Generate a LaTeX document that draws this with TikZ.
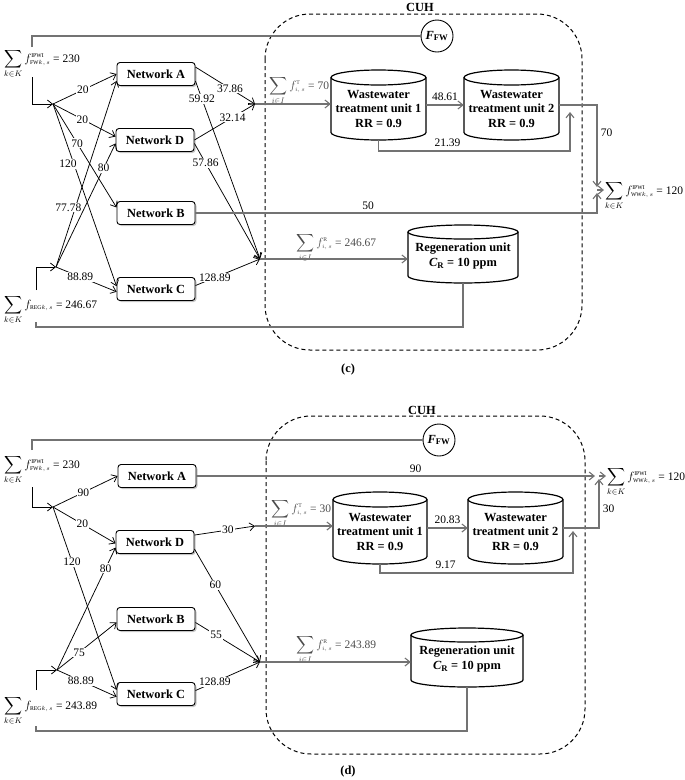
\documentclass[tikz,border=0pt]{standalone}
\usepackage{fontspec}
\usepackage{graphicx}
\setmainfont{Liberation Serif}
\usetikzlibrary{arrows.meta,shadows,calc}
\newcommand\drawcyl[5]{%
  \draw[cylline] (#1-#4,#2+#5) -- (#1-#4,#3-#5) arc[start angle=180,end angle=360,x radius=#4pt,y radius=#5pt] -- (#1+#4,#2+#5);
  \draw[cylline] (#1,#2+#5) ellipse[x radius=#4pt,y radius=#5pt];
}
\newcommand\bsum{\mathop{\vcenter{\hbox{\scalebox{1.25}{$\displaystyle\sum$}}}}\limits}
\begin{document}
\begin{tikzpicture}[x=1pt,y=-1pt,font=\fontsize{11.5}{13}\selectfont,
 net/.style={draw,rounded corners=3pt,line width=0.9pt,fill=white,minimum width=78pt,minimum height=23pt,inner sep=0pt,font=\fontsize{12.4}{14}\selectfont\bfseries,drop shadow={shadow xshift=1.5pt,shadow yshift=-1.5pt,fill=black!45}},
 ar/.style={-{Straight Barb[length=5pt,width=8pt]}},
 bl/.style={line width=0.75pt,draw=black},
 gl/.style={line width=1.1pt,draw=black!55},
 lbl/.style={fill=white,inner sep=1pt},
 cylbox/.style 2 args={minimum width=#1,minimum height=#2,inner sep=0pt},
 cyltxt/.style={align=center,font=\fontsize{12.4}{14.5}\selectfont\bfseries,inner sep=0pt},
 cylline/.style={line width=1.2pt},
 cuh/.style={dash pattern=on 4pt off 3pt,line width=1pt,rounded corners=45pt},
 boldlbl/.style={font=\fontsize{12.4}{14}\selectfont\bfseries},
 fwnode/.style={draw,circle,minimum size=32pt,inner sep=0pt,line width=0.9pt,font=\fontsize{12.4}{14}\selectfont\bfseries},
 sumlbl/.style={anchor=base west,inner sep=1pt},
 glbl/.style={anchor=base west,inner sep=1pt,text=black!70},
]
\useasboundingbox (0,0) rectangle (685,780);

% =================== (c) ===================
\node[boldlbl] (cuhc) at (420,7) {CUH};
\draw[cuh] (265,14) rectangle (582,350);
\node[fwnode] (fwc) at (437,36) {{\itshape F}\textsubscript{FW}};

\node[net] (Ac) at (156,74) {Network A};
\node[net] (Dc) at (155,140) {Network D};
\node[net] (Bc) at (156,213) {Network B};
\node[net] (Cc) at (156,289) {Network C};

\drawcyl{378.5}{70}{140}{47.5}{7.5}
\node[cylbox={95pt}{70pt}] (tu1c) at (378.5,105) {};
\node[cyltxt] (tu1ct) at (378.5,109) {Wastewater\\treatment unit 1\\RR = 0.9};
\drawcyl{511.5}{70}{140}{47.5}{7.5}
\node[cylbox={95pt}{70pt}] (tu2c) at (511.5,105) {};
\node[cyltxt] (tu2ct) at (511.5,109) {Wastewater\\treatment unit 2\\RR = 0.9};
\drawcyl{463}{225}{283}{55}{7}
\node[cylbox={110pt}{58pt}] (regc) at (463,254) {};
\node[cyltxt] (regct) at (463,256) {Regeneration unit\\{\itshape C}\textsubscript{R} = 10 ppm};

\node[sumlbl] (sFWc) at (3,62) {$\bsum_{k\in K} f^{\scriptscriptstyle\mathrm{IPWI}}_{\scriptscriptstyle\mathrm{FW}k,\,s}$ = 230};
\node[sumlbl] (sREGc) at (3,308) {$\bsum_{k\in K} f_{\scriptscriptstyle\mathrm{REG}k,\,s}$ = 246.67};
\node[sumlbl] (sWWc) at (604,194) {$\bsum_{k\in K} f^{\scriptscriptstyle\mathrm{IPWI}}_{\scriptscriptstyle\mathrm{WW}k,\,s}$ = 120};
\node[glbl] (sTc) at (268,89) {$\bsum_{i\in I} f^{\scriptscriptstyle\mathrm{T}}_{\scriptscriptstyle i,\,s}$ = 70};
\node[glbl] (sRc) at (295,246) {$\bsum_{i\in I} f^{\scriptscriptstyle\mathrm{R}}_{\scriptscriptstyle i,\,s}$ = 246.67};

\coordinate (J1c) at (53,104);
\coordinate (J2c) at (56,267);
\coordinate (J3c) at (255,104);
\coordinate (J4c) at (260,259);
\coordinate (fwtopc) at (32,47);
\coordinate (fwbotc) at (32,77);
\coordinate (regtopc) at (36,290);
\coordinate (rcc) at (36,327);
\coordinate (regretc) at (36,322);
\coordinate (bpcb) at (570,151);
\coordinate (bpc) at (570,112);
\coordinate (WWc) at (597,190);
\coordinate (WWcu) at (597,187);
\coordinate (WWcd) at (597,193);

\draw[gl] (fwtopc) |- (fwc.west);
\draw[bl,ar] (fwbotc) |- (J1c);
\draw[bl,ar] (regtopc) |- (J2c);
\draw[gl] (regc.south) |- (rcc) -- (regretc);

\draw[bl,ar] (J1c) -- node[lbl,pos=.47]{20} (Ac.west);
\draw[bl,ar] (J1c) -- node[lbl,pos=.47]{20} (Dc.175);
\draw[bl,ar] (J1c) -- node[lbl,pos=.38]{70} (Bc.172);
\draw[bl,ar] (J1c) -- node[lbl,pos=.33,xshift=-6pt]{120} (Cc.176);
\draw[bl,ar] (J2c) -- node[lbl,pos=.32,xshift=-7pt]{77.78} (Ac.190);
\draw[bl,ar] (J2c) -- node[lbl,pos=.8]{80} (Dc.185);
\draw[bl,ar] (J2c) -- node[lbl,pos=.4]{88.89} (Cc.184);

\draw[bl,ar] (Ac.10) -- node[lbl,pos=.58]{37.86} (J3c);
\draw[bl,ar] (Dc.east) -- node[lbl,pos=.63]{32.14} (J3c);
\draw[bl,ar] (Ac.-10) -- node[lbl,pos=.1]{59.92} (J4c);
\draw[bl,ar] (Dc.-5) -- node[lbl,pos=.17]{57.86} (J4c);
\draw[bl,ar] (Cc.5) -- node[lbl,pos=.3]{128.89} (J4c);

\draw[gl,ar] (J3c) -- (J3c -| tu1c.west);
\draw[gl,ar] (J4c) -- (J4c -| regc.west);
\draw[gl,ar] (tu1c.east) -- node[above]{48.61} (tu2c.west);
\draw[gl,ar] (tu1c.south) |- node[above,pos=.68]{21.39} (bpcb) -- (bpc);
\draw[gl,ar] (tu2c.east) -| node[right,pos=.67]{70} (WWcu);
\draw[gl,ar] (Bc.east) -| node[above,pos=.215]{50} (WWcd);
\draw[gl,ar] (WWc) -- (WWc -| sWWc.west);

\node[boldlbl] (capc) at (348,370) {(c)};

% =================== (d) ===================
\node[boldlbl] (cuhd) at (422,410) {CUH};
\draw[cuh] (266,416) rectangle (585,754);
\node[fwnode] (fwd) at (439,440) {{\itshape F}\textsubscript{FW}};

\node[net] (Ad) at (157,476) {Network A};
\node[net] (Dd) at (155,542) {Network D};
\node[net] (Bd) at (156,619) {Network B};
\node[net] (Cd) at (156,694) {Network C};

\drawcyl{380}{492}{564}{47}{7.5}
\node[cylbox={94pt}{72pt}] (tu1d) at (380,528) {};
\node[cyltxt] (tu1dt) at (380,532) {Wastewater\\treatment unit 1\\RR = 0.9};
\drawcyl{515.5}{492}{564}{47.5}{7.5}
\node[cylbox={95pt}{72pt}] (tu2d) at (515.5,528) {};
\node[cyltxt] (tu2dt) at (515.5,532) {Wastewater\\treatment unit 2\\RR = 0.9};
\drawcyl{467}{628}{687}{56}{7}
\node[cylbox={112pt}{59pt}] (regd) at (467,657) {};
\node[cyltxt] (regdt) at (467,659) {Regeneration unit\\{\itshape C}\textsubscript{R} = 10 ppm};

\node[sumlbl] (sFWd) at (3,468) {$\bsum_{k\in K} f^{\scriptscriptstyle\mathrm{IPWI}}_{\scriptscriptstyle\mathrm{FW}k,\,s}$ = 230};
\node[sumlbl] (sREGd) at (3,709) {$\bsum_{k\in K} f_{\scriptscriptstyle\mathrm{REG}k,\,s}$ = 243.89};
\node[sumlbl] (sWWd) at (606,480) {$\bsum_{k\in K} f^{\scriptscriptstyle\mathrm{IPWI}}_{\scriptscriptstyle\mathrm{WW}k,\,s}$ = 120};
\node[glbl] (sTd) at (270,512) {$\bsum_{i\in I} f^{\scriptscriptstyle\mathrm{T}}_{\scriptscriptstyle i,\,s}$ = 30};
\node[glbl] (sRd) at (295,648) {$\bsum_{i\in I} f^{\scriptscriptstyle\mathrm{R}}_{\scriptscriptstyle i,\,s}$ = 243.89};

\coordinate (J1d) at (53,507);
\coordinate (J2d) at (57,670);
\coordinate (J3d) at (255,526);
\coordinate (J4d) at (260,662);
\coordinate (fwtopd) at (32,450);
\coordinate (fwbotd) at (32,487);
\coordinate (regtopd) at (36,690);
\coordinate (rcd) at (36,731);
\coordinate (regretd) at (36,726);
\coordinate (bpdb) at (573,573);
\coordinate (bpd) at (573,531);
\coordinate (WWdA) at (595,476);
\coordinate (WWd) at (599,476);
\coordinate (WWdu) at (599,479);

\draw[gl] (fwtopd) |- (fwd.west);
\draw[bl,ar] (fwbotd) |- (J1d);
\draw[bl,ar] (regtopd) |- (J2d);
\draw[gl] (regd.south) |- (rcd) -- (regretd);

\draw[bl,ar] (J1d) -- node[lbl,pos=.47]{90} (Ad.west);
\draw[bl,ar] (J1d) -- node[lbl,pos=.47]{20} (Dd.182);
\draw[bl,ar] (J1d) -- node[lbl,pos=.3]{120} (Cd.174);
\draw[bl,ar] (J2d) -- node[lbl,pos=.83]{80} (Dd.188);
\draw[bl,ar] (J2d) -- node[lbl,pos=.37]{75} (Bd.185);
\draw[bl,ar] (J2d) -- node[lbl,pos=.4]{88.89} (Cd.184);

\draw[gl,ar] (Ad.east) -- node[above,pos=.55]{90} (WWdA);
\draw[gl,ar] (WWd) -- (WWd -| sWWd.west);
\draw[bl,ar] (Dd.10) -- node[lbl,pos=.55]{30} (J3d);
\draw[gl,ar] (J3d) -- (J3d -| tu1d.west);
\draw[gl,ar] (tu1d.east) -- node[above]{20.83} (tu2d.west);
\draw[gl,ar] (tu1d.south) |- node[above,pos=.67]{9.17} (bpdb) -- (bpd);
\draw[gl,ar] (tu2d.east) -| node[right,pos=.7]{30} (WWdu);

\draw[bl,ar] (Dd.-10) -- node[lbl,pos=.32]{60} (J4d);
\draw[bl,ar] (Bd.-5) -- node[lbl,pos=.32]{55} (J4d);
\draw[bl,ar] (Cd.5) -- node[lbl,pos=.3]{128.89} (J4d);
\draw[gl,ar] (J4d) -- (J4d -| regd.west);

\node[boldlbl] (capd) at (348,772) {(d)};
\end{tikzpicture}
\end{document}
